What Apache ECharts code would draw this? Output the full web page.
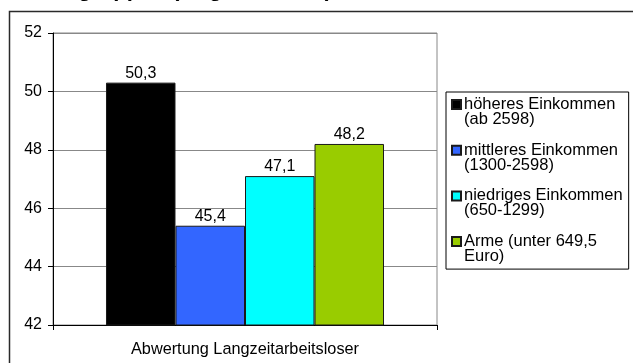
<!DOCTYPE html>
<html>
<head>
<meta charset="utf-8">
<script src="https://cdn.jsdelivr.net/npm/echarts@6/dist/echarts.min.js"></script>
<style>
  html, body { margin: 0; padding: 0; background: #fff; }
  #chart { width: 633px; height: 363px; }
</style>
</head>
<body>
<div id="chart"></div>
<script>
// Category on the x axis
const categories = ['Abwertung Langzeitarbeitsloser'];

// Income groups (legend entries) and their values in percent
const groupNames = [
  'höheres Einkommen\n(ab 2598)',
  'mittleres Einkommen\n(1300-2598)',
  'niedriges Einkommen\n(650-1299)',
  'Arme (unter 649,5\nEuro)'
];
const groupValues = [50.3, 45.4, 47.1, 48.2];
const groupColors = ['#000000', '#3366FF', '#00FFFF', '#99CC00'];

// Value axis ticks
const yTicks = { min: 42, max: 52, interval: 2 };

const FONT = '"Liberation Sans", Arial, sans-serif';

// Legend icon: a square aligned with the first text line of a two-line entry
const legendIcon = 'path://M0,0L0,0 M0,3L9,3L9,12L0,12Z M0,30L0,30';

const chart = echarts.init(document.getElementById('chart'), null, { renderer: 'canvas' });

const series = groupNames.map((name, i) => ({
  name: name,
  type: 'bar',
  data: [groupValues[i]],
  barGap: 0,
  barCategoryGap: '27.6%',
  itemStyle: { color: groupColors[i], borderColor: '#1a1a1a', borderWidth: 1 },
  label: {
    show: true,
    position: 'top',
    distance: 1,
    color: '#000',
    fontFamily: FONT,
    fontSize: 16,
    formatter: p => String(p.value).replace('.', ',')
  },
  emphasis: { disabled: true },
  animation: false
}));

chart.setOption({
  backgroundColor: '#ffffff',
  animation: false,
  graphic: [{
    // Heading, running off the top edge of the canvas
    type: 'text',
    x: -59,
    y: 1,
    silent: true,
    style: {
      text: 'Einkommensgruppen (Angaben in %)',
      fontFamily: FONT,
      fontSize: 22,
      fontWeight: 'bold',
      lineHeight: 22,
      fill: '#000',
      align: 'left',
      verticalAlign: 'bottom'
    }
  }, {
    type: 'rect',
    shape: { x: 9.5, y: 11.5, width: 700, height: 400 },
    style: { fill: 'none', stroke: '#2a2a2a', lineWidth: 1.5 },
    silent: true,
    z: -1
  }],
  grid: {
    left: 53, top: 33, right: 196, bottom: 38,
    show: true, borderColor: '#888', borderWidth: 1, backgroundColor: 'transparent'
  },
  legend: {
    orient: 'vertical',
    left: 446,
    top: 92,
    padding: [4, 6, 4, 5],
    itemGap: 13.7,
    itemWidth: 9,
    itemHeight: 30,
    icon: legendIcon,
    selectedMode: false,
    borderColor: '#000',
    borderWidth: 1,
    textStyle: { fontFamily: FONT, fontSize: 16.5, lineHeight: 15, color: '#000', padding: [0, 0, 0, -2] },
    data: groupNames
  },
  xAxis: {
    type: 'category',
    data: categories,
    boundaryGap: true,
    axisLine: { lineStyle: { color: '#000', width: 1 } },
    axisTick: { show: true, length: 5, alignWithLabel: false, lineStyle: { color: '#000' } },
    axisLabel: { fontFamily: FONT, fontSize: 16.3, color: '#000', margin: 17 }
  },
  yAxis: {
    type: 'value',
    min: yTicks.min,
    max: yTicks.max,
    interval: yTicks.interval,
    axisLine: { show: true, lineStyle: { color: '#000', width: 1 } },
    axisTick: { show: true, length: 5, inside: false, lineStyle: { color: '#000' } },
    axisLabel: { fontFamily: FONT, fontSize: 16, color: '#000', margin: 11 },
    splitLine: { show: true, lineStyle: { color: '#888', width: 1 } }
  },
  series: series
});
</script>
</body>
</html>
